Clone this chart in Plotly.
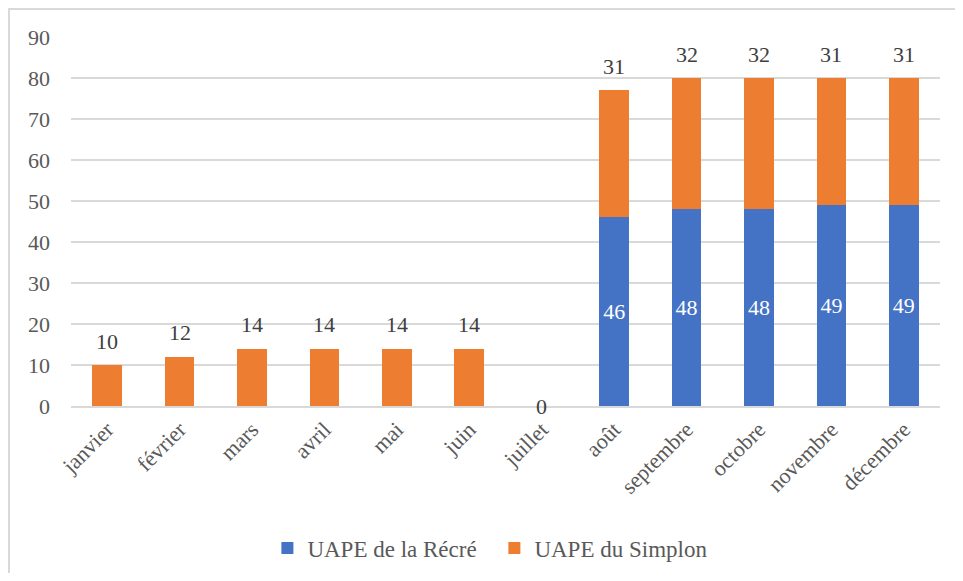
import plotly.graph_objects as go

# données
mois = ["janvier", "février", "mars", "avril", "mai", "juin", "juillet",
        "août", "septembre", "octobre", "novembre", "décembre"]
recre = [0, 0, 0, 0, 0, 0, 0, 46, 48, 48, 49, 49]
simplon = [10, 12, 14, 14, 14, 14, 0, 31, 32, 32, 31, 31]

FONT = "Liberation Serif"
GREY = "#595959"
FS = 22

fig = go.Figure()
fig.add_trace(go.Bar(
    x=mois, y=recre, name="UAPE de la Récré",
    marker=dict(color="#4472C4", line=dict(width=0)),
    text=[str(v) if v else "" for v in recre],
    textposition="inside", insidetextanchor="middle",
    textfont=dict(color="white", size=FS, family=FONT),
))
fig.add_trace(go.Bar(
    x=mois, y=simplon, name="UAPE du Simplon",
    marker=dict(color="#ED7D31", line=dict(width=0)),
    textposition="none",
))

# étiquettes au-dessus des barres orange
for m, r, s in zip(mois, recre, simplon):
    fig.add_annotation(x=m, y=r + s, text=str(s), showarrow=False,
                       yanchor="middle", yshift=24 if s else 0,
                       font=dict(color="#404040", size=FS, family=FONT))

# la page ajoute 8 px de marge autour de la figure
fig.update_layout(
    barmode="stack",
    bargap=0.59,
    width=947, height=565,
    margin=dict(l=63, r=15, t=29, b=167, autoexpand=False),
    paper_bgcolor="white", plot_bgcolor="white",
    font=dict(family=FONT, color=GREY, size=FS),
    uniformtext=dict(minsize=FS, mode="show"),
    legend=dict(orientation="h", x=0.226, xanchor="left", y=-0.385, yanchor="middle",
                font=dict(size=23, color=GREY, family=FONT), traceorder="normal",
                itemwidth=30, entrywidth=182, entrywidthmode="pixels"),
    xaxis=dict(tickangle=-45, showgrid=False, showline=True, linecolor="#d9d9d9",
               linewidth=2, ticks="", automargin=False,
               tickfont=dict(size=FS, family=FONT)),
    yaxis=dict(range=[0, 90], dtick=10, showgrid=True, gridcolor="#d9d9d9", gridwidth=2,
               zeroline=False, showline=False, ticks="", ticklabelstandoff=20,
               automargin=False, tickfont=dict(size=FS, family=FONT)),
    shapes=[dict(type="rect", xref="paper", yref="paper",
                 x0=(1 - 63) / 869, x1=(990 - 63) / 869,
                 y0=(398 - 600) / 369, y1=(398 - 1) / 369,
                 line=dict(color="#d9d9d9", width=2), layer="below")],
)

fig.write_html("out.html")
